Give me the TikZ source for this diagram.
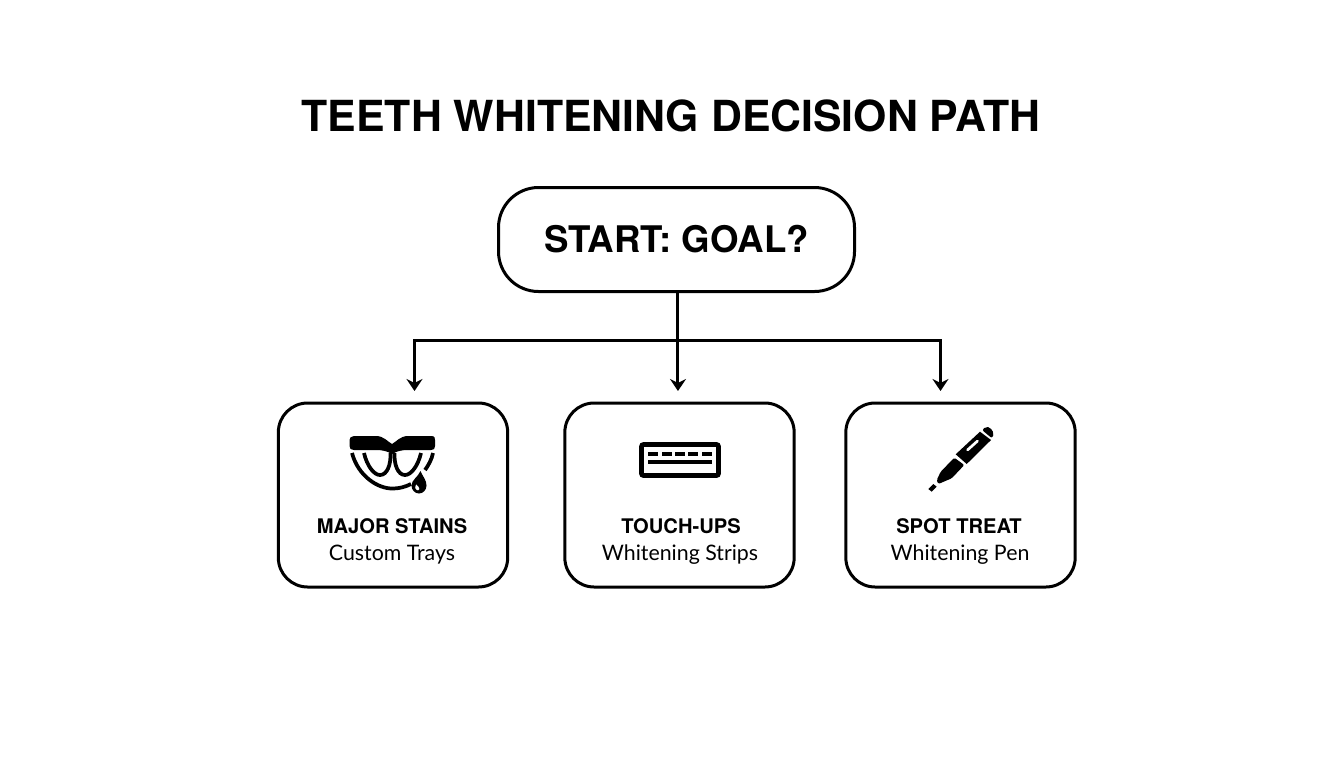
\documentclass[tikz,border=0pt]{standalone}
\usepackage{fontspec}
\setmainfont{TeX Gyre Heros}
\newfontfamily\subfont{Lato}
\usetikzlibrary{arrows.meta}
\tikzset{
  boxnode/.style={draw,line width=2.25pt,rounded corners=22pt,minimum width=172pt,minimum height=138pt,inner sep=0pt},
  headtext/.style={inner sep=0pt,font=\fontsize{15.1}{18}\selectfont\bfseries},
  subtext/.style={inner sep=0pt,font=\subfont\fontsize{16}{18}\selectfont},
  flowarrow/.style={line width=2.25pt,-{Stealth[length=9pt,width=12pt,inset=3pt]}},
}
\begin{document}
\begin{tikzpicture}[x=0.75pt,y=0.75pt,yscale=-1,xscale=1]
        \useasboundingbox (0,0) rectangle (1344,768);

        % Text Node
        \node (title) at (671,116) [inner sep=0pt,font=\fontsize{32.1}{36}\selectfont\bfseries] {TEETH WHITENING DECISION PATH};

        %Shape: Start box
        \node (start) at (676.5,239.5) [draw,line width=2.25pt,rounded corners=30pt,minimum width=267pt,minimum height=78pt,inner sep=0pt,font=\fontsize{27.5}{32}\selectfont\bfseries] {START: GOAL?};

        %Shape: Option boxes
        \node (major) at (393,495) [boxnode] {};
        \node (touch) at (679.5,495) [boxnode] {};
        \node (spot) at (960.5,495) [boxnode] {};

        % Text Node
        \node (majorhead) at (392,526) [headtext] {MAJOR STAINS};
        \node (majorsub) at (392,555) [subtext] {Custom Trays};
        \node (touchhead) at (681,526) [headtext] {TOUCH-UPS};
        \node (touchsub) at (680,555) [subtext] {Whitening Strips};
        \node (spothead) at (959,526) [headtext] {SPOT TREAT};
        \node (spotsub) at (960,555) [subtext] {Whitening Pen};

        %Straight Lines
        \coordinate (leave) at ([xshift=1.1pt]start.south);
        \coordinate (branch) at (leave |- 0,340);
        \coordinate (cornerleft) at (414.5,340);
        \coordinate (cornerright) at (940.5,340);
        \coordinate (tipleft) at (414.5,391);
        \coordinate (tipright) at (940.5,391);
        \coordinate (tipmid) at (leave |- 0,391);
        \draw [flowarrow] (leave) -- (tipmid);
        \draw [flowarrow] (branch) -- (cornerleft) -- (tipleft);
        \draw [flowarrow] (branch) -- (cornerright) -- (tipright);

        %Shape: Mouth icon
        \fill (354,436) -- (376,436) .. controls (384,436) and (388,442) .. (392,444) .. controls (396,442) and (400,436) .. (408,436) -- (431,436) .. controls (435,436) and (435,438) .. (435,440) -- (435,446) .. controls (435,449) and (434,450) .. (431,450) -- (408,450) .. controls (402,450) and (397,451) .. (392,454) .. controls (387,451) and (382,450) .. (376,450) -- (354,450) .. controls (351,450) and (349.5,449) .. (349.5,446) -- (349.5,440) .. controls (349.5,438) and (351,436) .. (354,436) -- cycle;
        \draw [line width=2.8pt] (352,453) .. controls (358,476) and (378,489) .. (393,488.5) .. controls (399,488.5) and (405,487) .. (411,484);
        \draw [line width=2.8pt] (433,453) .. controls (432,459) and (428,466) .. (425,470);
        \draw [line width=2.8pt] (364,453) .. controls (367,466) and (374,475) .. (380,475) .. controls (387,475) and (391,465) .. (390.5,453);
        \draw [line width=2.8pt] (421,453) .. controls (418,466) and (411,475) .. (405,475) .. controls (398,475) and (394,465) .. (394.5,453);
        %Shape: Drop
        \fill [even odd rule] (420.5,471) .. controls (423,477) and (426.5,480) .. (426.5,485.5) .. controls (426.5,490) and (423,493.5) .. (419,493.5) .. controls (415,493.5) and (411.5,490) .. (411.5,485.5) .. controls (411.5,480) and (418,477) .. (420.5,471) -- cycle
          (416,484) .. controls (414.5,486) and (414.5,490) .. (418,490.5) .. controls (420,490.5) and (420,488) .. (418.5,486.5) -- cycle;

        %Shape: Strip icon
        \draw [line width=3.5pt,rounded corners=1.5pt] (641.5,444.5) rectangle (718.5,475.5);
        \foreach \dashx in {648.3,661.7,675,688.3,701.7} {
            \fill (\dashx,451.7) rectangle ++(10,4);
        }
        \fill (648.3,460) rectangle (711.7,464.3);

        %Shape: Pen icon
        \fill [rounded corners=1.5pt] (982,430) -- (986,426.7) -- (990,427.3) -- (994,433.3) -- (992,438.3) -- cycle;
        \fill (980,431.7) -- (991,440) -- (966.7,464) -- (955.7,454.3) -- cycle;
        \draw [white,line width=2pt,line cap=round] (967.5,450) -- (977.5,441);
        \fill [rounded corners=1pt] (954.3,457.7) -- (964.3,465) -- (951.7,478.3) -- (938.3,484) -- (936.7,480) -- (940.7,471.7) -- cycle;
        \fill (928.3,489) -- (933.3,484) -- (936.7,486.7) -- (931.7,491.7) -- cycle;
\end{tikzpicture}
\end{document}
